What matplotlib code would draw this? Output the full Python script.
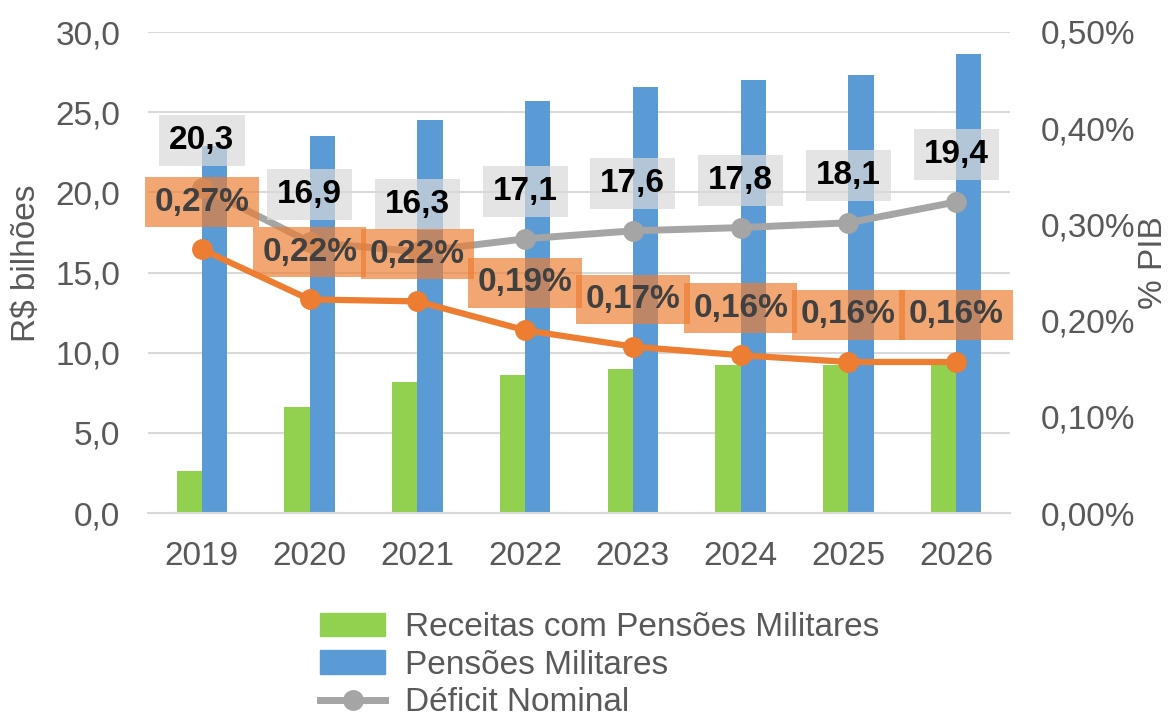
import matplotlib
matplotlib.use("Agg")
import matplotlib.pyplot as plt
from matplotlib.ticker import FuncFormatter
from matplotlib.lines import Line2D
from matplotlib.patches import Patch

plt.rcParams['font.family'] = ['Liberation Sans', 'DejaVu Sans']

years = ["2019", "2020", "2021", "2022", "2023", "2024", "2025", "2026"]
receitas = [2.6, 6.6, 8.2, 8.6, 9.0, 9.2, 9.2, 9.2]
pensoes = [22.9, 23.5, 24.5, 25.7, 26.6, 27.0, 27.3, 28.6]
deficit = [20.3, 16.9, 16.3, 17.1, 17.6, 17.8, 18.1, 19.4]
pib = [0.274, 0.222, 0.220, 0.190, 0.173, 0.164, 0.157, 0.157]

GREEN = "#92D050"
BLUE = "#5B9BD5"
GRAY = "#A5A5A5"
ORANGE = "#ED7D31"
TXT = "#595959"
FS = 24

fig = plt.figure(figsize=(11.71, 7.16), dpi=100)
ax = fig.add_axes([148/1171, 1-513/716, 862/1171, 481/716])
ax2 = ax.twinx()

x = list(range(len(years)))
w = 0.235
ax.bar([i - w/2 for i in x], receitas, width=w, color=GREEN, zorder=2)
ax.bar([i + w/2 for i in x], pensoes, width=w, color=BLUE, zorder=2)
ax.plot(x, deficit, color=GRAY, lw=5, marker='o', ms=14, zorder=3)

ax.set_xlim(-0.5, 7.5)
ax.set_ylim(0, 30)
ax.set_yticks([0, 5, 10, 15, 20, 25, 30])
ax.yaxis.set_major_formatter(FuncFormatter(lambda v, p: f"{v:.1f}".replace('.', ',')))
ax.set_xticks(x)
ax.set_xticklabels(years)
ax.grid(axis='y', color='#D9D9D9', lw=1.5, zorder=0)
ax.set_axisbelow(True)
for s in ['top', 'left', 'right']:
    ax.spines[s].set_visible(False)
ax.spines['bottom'].set_color('#D9D9D9')
ax.spines['bottom'].set_linewidth(1.5)
ax.tick_params(axis='both', length=0, labelsize=FS, labelcolor=TXT)
ax.tick_params(axis='y', pad=20)
ax.tick_params(axis='x', pad=20)
ax.set_ylabel("R$ bilhões", fontsize=FS, color=TXT)
ax.yaxis.set_label_coords(-0.123, 0.52)

ax2.plot(x, pib, color=ORANGE, lw=4.5, marker='o', ms=14, zorder=3)
ax2.set_ylim(0, 0.5)
ax2.set_yticks([0, 0.1, 0.2, 0.3, 0.4, 0.5])
ax2.yaxis.set_major_formatter(FuncFormatter(lambda v, p: f"{v:.2f}%".replace('.', ',')))
for s in ['top', 'left', 'right', 'bottom']:
    ax2.spines[s].set_visible(False)
ax2.tick_params(axis='y', length=0, labelsize=FS, labelcolor=TXT, pad=22)
ax2.set_ylabel("% PIB", fontsize=FS, color=TXT)
ax2.yaxis.set_label_coords(1.149, 0.52)

for i, v in enumerate(deficit):
    ax.annotate(f"{v:.1f}".replace('.', ','), (i, v), xytext=(0, 34),
                textcoords='offset points', ha='center', va='center',
                fontsize=FS, fontweight='bold', color='black', zorder=5,
                bbox=dict(boxstyle='square,pad=0.3', fc='#D9D9D9', ec='none', alpha=0.7))

for i, v in enumerate(pib):
    ax2.annotate(f"{v:.2f}%".replace('.', ','), (i, v), xytext=(0, 34),
                 textcoords='offset points', ha='center', va='center',
                 fontsize=FS, fontweight='bold', color='#404040', zorder=5,
                 bbox=dict(boxstyle='square,pad=0.28', fc=ORANGE, ec='none', alpha=0.68))

handles = [Patch(color=GREEN), Patch(color=BLUE),
           Line2D([], [], color=GRAY, lw=5, marker='o', ms=14)]
labels = ["Receitas com Pensões Militares", "Pensões Militares", "Déficit Nominal"]
leg = fig.legend(handles, labels, loc='upper left', bbox_to_anchor=(320/1171, 1-612/716),
                 frameon=False, fontsize=FS, handlelength=1.95, handletextpad=0.6,
                 labelspacing=0.2, borderpad=0, borderaxespad=0)
for t in leg.get_texts():
    t.set_color(TXT)

fig.savefig("out.png", dpi=100)
